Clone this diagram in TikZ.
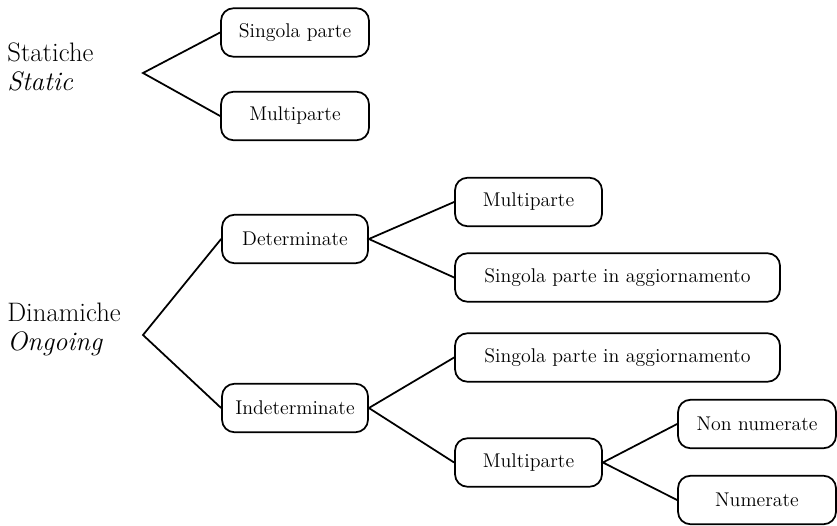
\documentclass[tikz,border=0pt]{standalone}
\usepackage{tikz}

\tikzset{
  box/.style={draw, line width=1pt, rounded corners=0.25cm, minimum height=0.97cm,
    inner sep=0pt, font=\fontsize{11.3}{13}\selectfont},
  ramo/.style={line width=1pt},
  etichetta/.style={anchor=west, align=left, inner sep=0pt, font=\fontsize{15.2}{16.5}\selectfont}
}

\begin{document}
\begin{tikzpicture}
    \useasboundingbox (0,0) rectangle (16.74,10.5);

    % statiche
    \node[etichetta] (Statiche) at (0.14,9.16) {Statiche\\ \textit{Static}};
    \coordinate (StaticheFork) at (2.86,9.04);
    \node[box, minimum width=2.96cm] (SingolaParte) at (5.9,9.85) {Singola parte};
    \node[box, minimum width=2.96cm] (MultiparteStatiche) at (5.9,8.18) {Multiparte};

    \draw[ramo] (SingolaParte.west) -- (StaticheFork) -- (MultiparteStatiche.west);

    % dinamiche
    \node[etichetta] (Dinamiche) at (0.14,3.92) {Dinamiche\\ \textit{Ongoing}};
    \coordinate (DinamicheFork) at (2.86,3.8);
    \node[box, minimum width=2.92cm] (Determinate) at (5.9,5.72) {Determinate};
    \node[box, minimum width=2.92cm] (Indeterminate) at (5.9,2.34) {Indeterminate};

    \node[box, minimum width=2.94cm] (MultiparteDet) at (10.57,6.46) {Multiparte};
    \node[box, minimum width=6.5cm] (AggiornamentoDet) at (12.35,4.95) {Singola parte in aggiornamento};
    \node[box, minimum width=6.5cm] (AggiornamentoInd) at (12.35,3.35) {Singola parte in aggiornamento};
    \node[box, minimum width=2.94cm] (MultiparteInd) at (10.57,1.25) {Multiparte};

    \node[box, minimum width=3.16cm] (NonNumerate) at (15.14,2.02) {Non numerate};
    \node[box, minimum width=3.16cm] (Numerate) at (15.14,0.5) {Numerate};

    \draw[ramo] (Determinate.west) -- (DinamicheFork) -- (Indeterminate.west);
    \draw[ramo] (MultiparteDet.west) -- (Determinate.east) -- (AggiornamentoDet.west);
    \draw[ramo] (AggiornamentoInd.west) -- (Indeterminate.east) -- (MultiparteInd.west);
    \draw[ramo] (NonNumerate.west) -- (MultiparteInd.east) -- (Numerate.west);

\end{tikzpicture}
\end{document}
